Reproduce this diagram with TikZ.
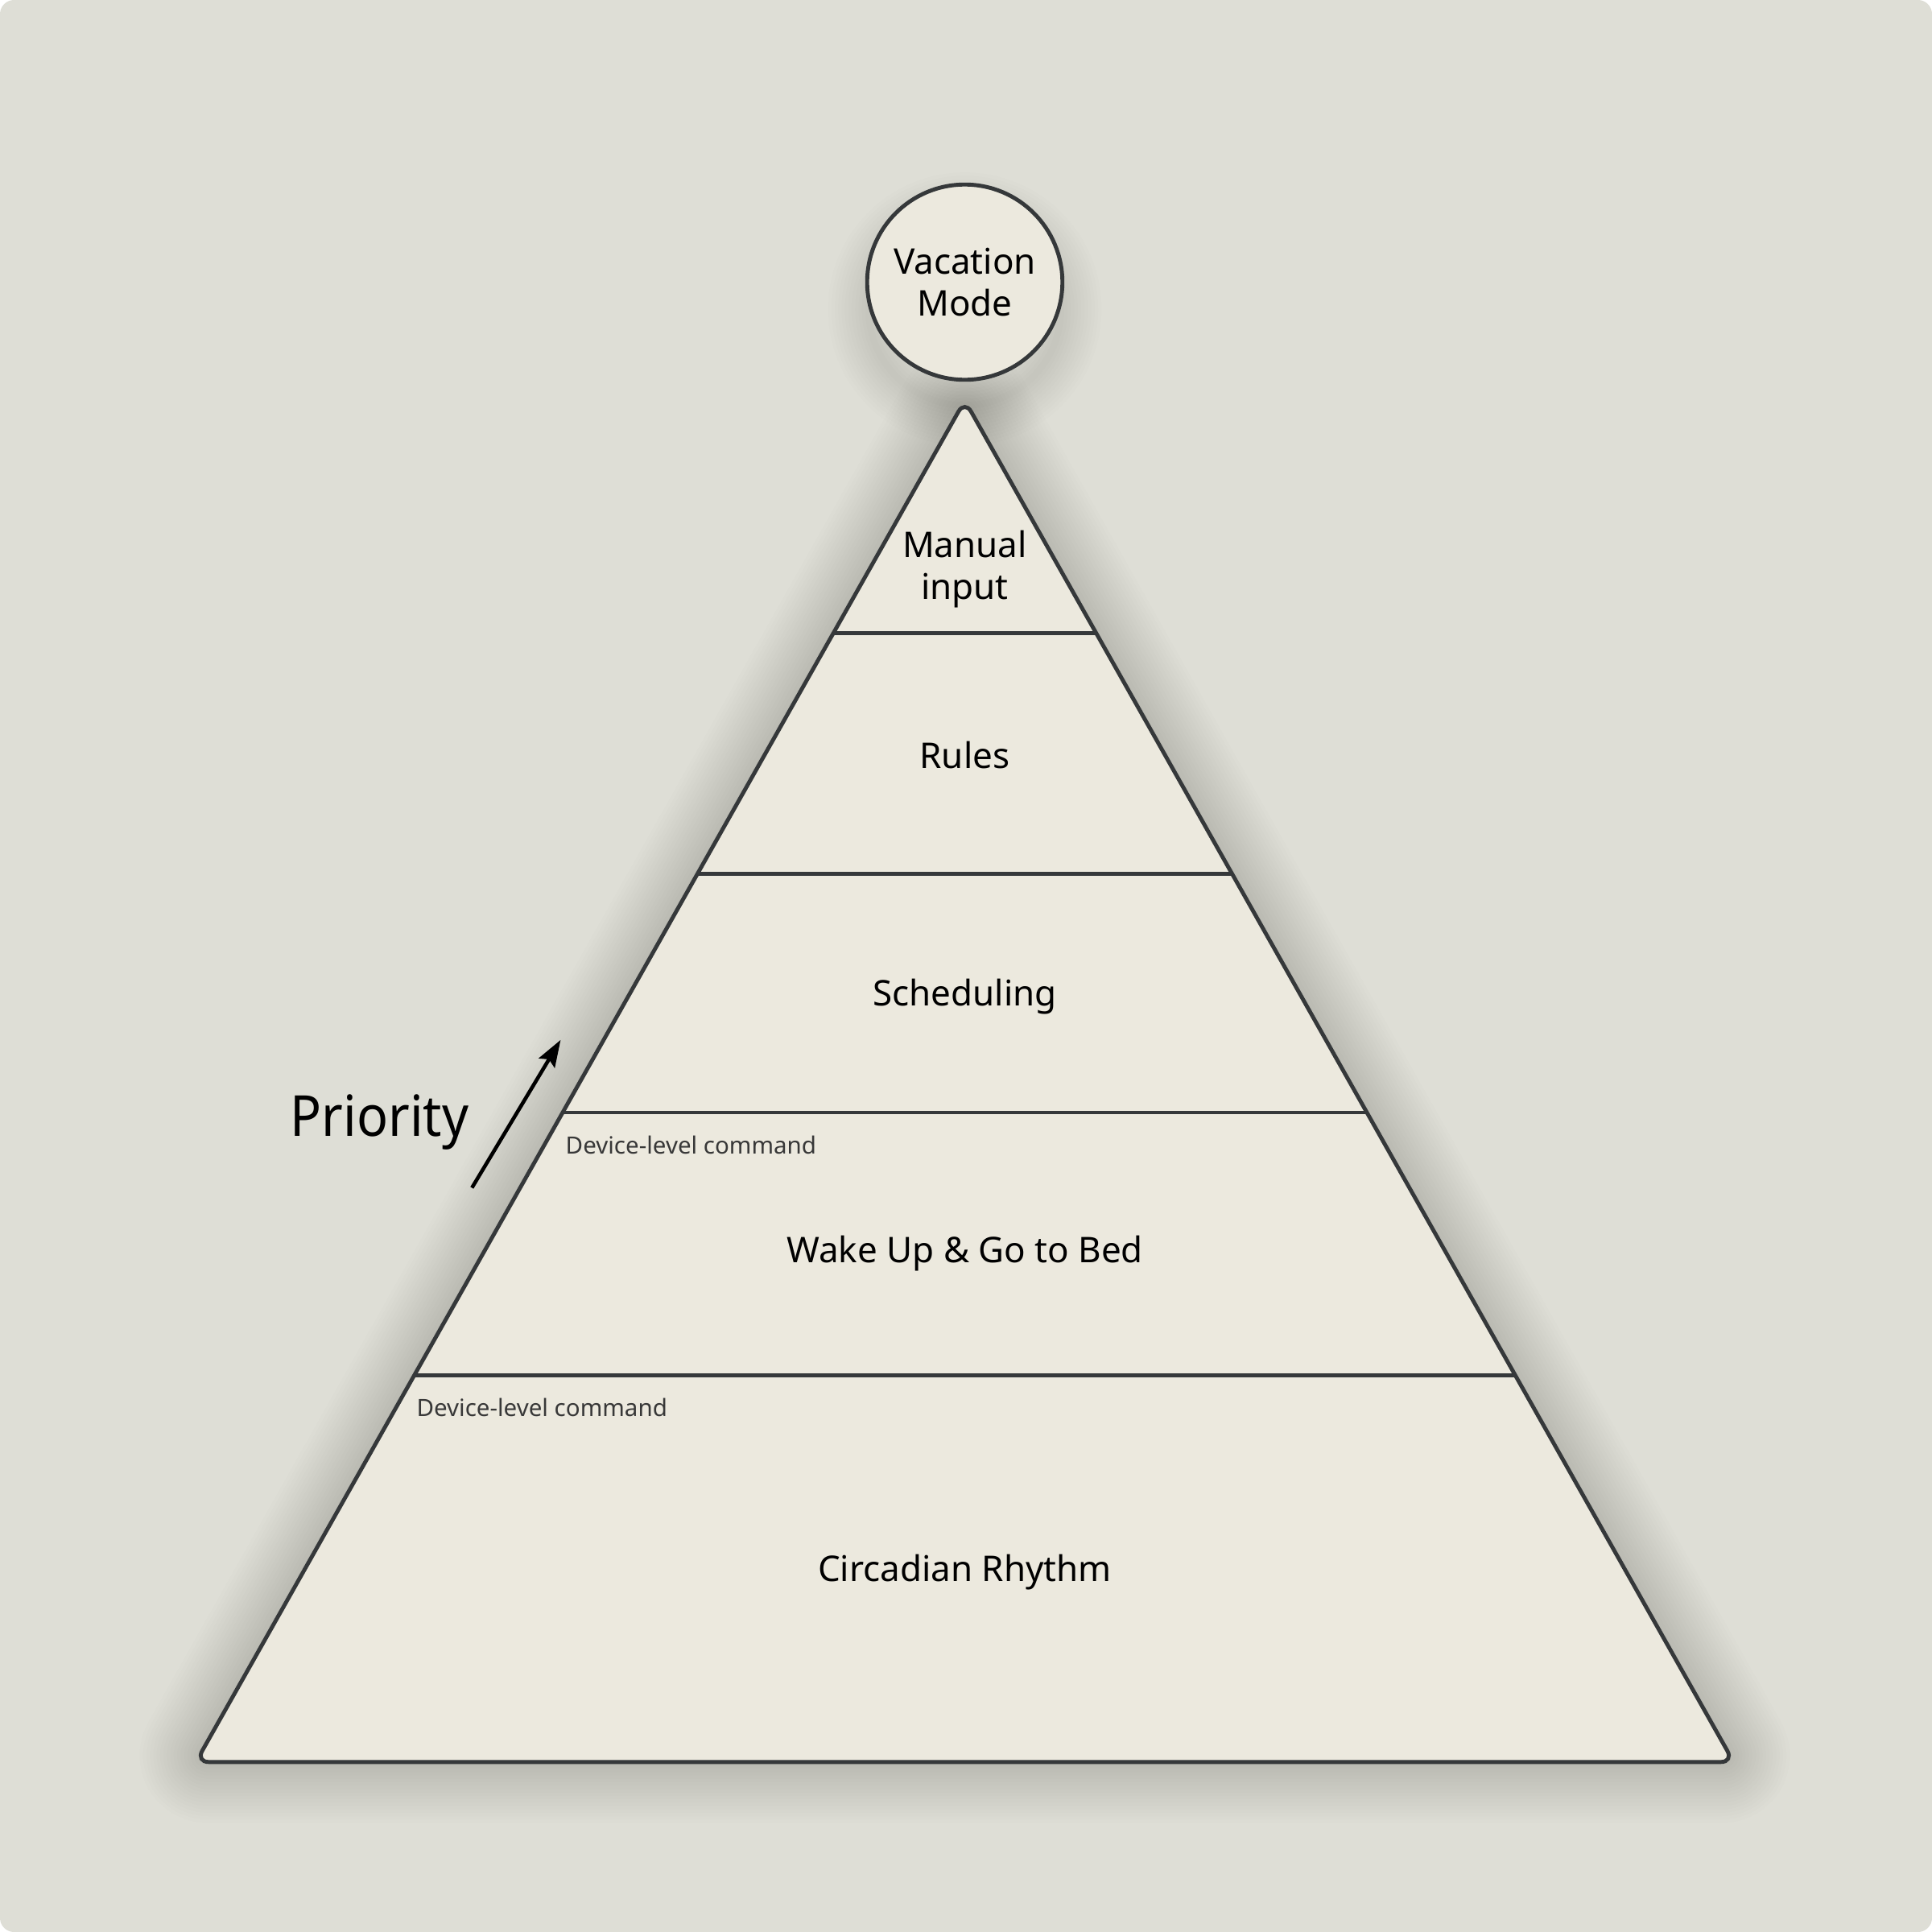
\documentclass[tikz,border=0pt]{standalone}
\usepackage{fontspec}
\setmainfont{Noto Sans}
\usetikzlibrary{arrows.meta,calc}
\definecolor{bgcol}{HTML}{DEDED6}
\definecolor{pyrfill}{HTML}{ECE9DE}
\definecolor{edgecol}{HTML}{35383A}
\newcommand{\lab}{\fontsize{12.5}{14.75}\selectfont}
\newcommand{\sm}{\fontsize{8.4}{10}\selectfont}

\begin{document}
\begin{tikzpicture}[x=0.015306cm,y=-0.015306cm,
    edge/.style={draw=edgecol,line width=1.4pt},
    haze/.style={draw=black,opacity=0.0095,line join=round},
    layer/.style={font=\lab,text=black,align=center},
    note/.style={font=\sm,text=black!78,anchor=west}]
  % background
  \fill[white] (0,0) rectangle (1568,1568);
  \fill[bgcol,rounded corners=5pt] (0,0) rectangle (1568,1568);
  \useasboundingbox (0,0) rectangle (1568,1568);

  % pyramid corners
  \coordinate (apex) at (783,325);
  \coordinate (bl)   at (159,1430);
  \coordinate (br)   at (1407,1430);

  % soft shadows
  \begin{scope}[yshift=-10pt]
    \foreach \i in {1,...,18}
      \draw[haze,line width=\i*2.4pt,rounded corners=4.5pt] (apex) -- (br) -- (bl) -- cycle;
    \foreach \i in {1,...,12}
      \draw[haze,line width=\i*2.4pt] (783,228) circle (78);
  \end{scope}

  \draw[edge,fill=pyrfill,rounded corners=4.5pt] (apex) -- (br) -- (bl) -- cycle;

  % layer lines
  \foreach \t in {0.171,0.3475,0.523,0.716}
    \draw[edge] ($(apex)!\t!(bl)$) -- ($(apex)!\t!(br)$);

  % top circle
  \node[circle,edge,fill=pyrfill,minimum size=69pt,inner sep=0pt,
        layer] (vacation) at (783,229) {Vacation\\Mode};

  % labels
  \node[layer] (manual)    at (783,462)  {Manual\\input};
  \node[layer] (rules)     at (783,613)  {Rules};
  \node[layer] (sched)     at (783,809)  {Scheduling};
  \node[layer] (wake)      at (783,1017) {Wake Up \& Go to Bed};
  \node[layer] (circadian) at (783,1276) {Circadian Rhythm};
  \node[note]  (dev1)      at (451,929)  {Device-level command};
  \node[note]  (dev2)      at (330,1142) {Device-level command};

  % priority
  \node[font=\fontsize{20}{24}\selectfont,xscale=0.92] (prio) at (308,911) {Priority};
  \coordinate (prioLow)  at (383,964);
  \coordinate (prioHigh) at (455,844);
  \draw[line width=1.3pt,-{Stealth[length=9.5pt,width=6.5pt,inset=1.5pt]}] (prioLow) -- (prioHigh);
\end{tikzpicture}
\end{document}
